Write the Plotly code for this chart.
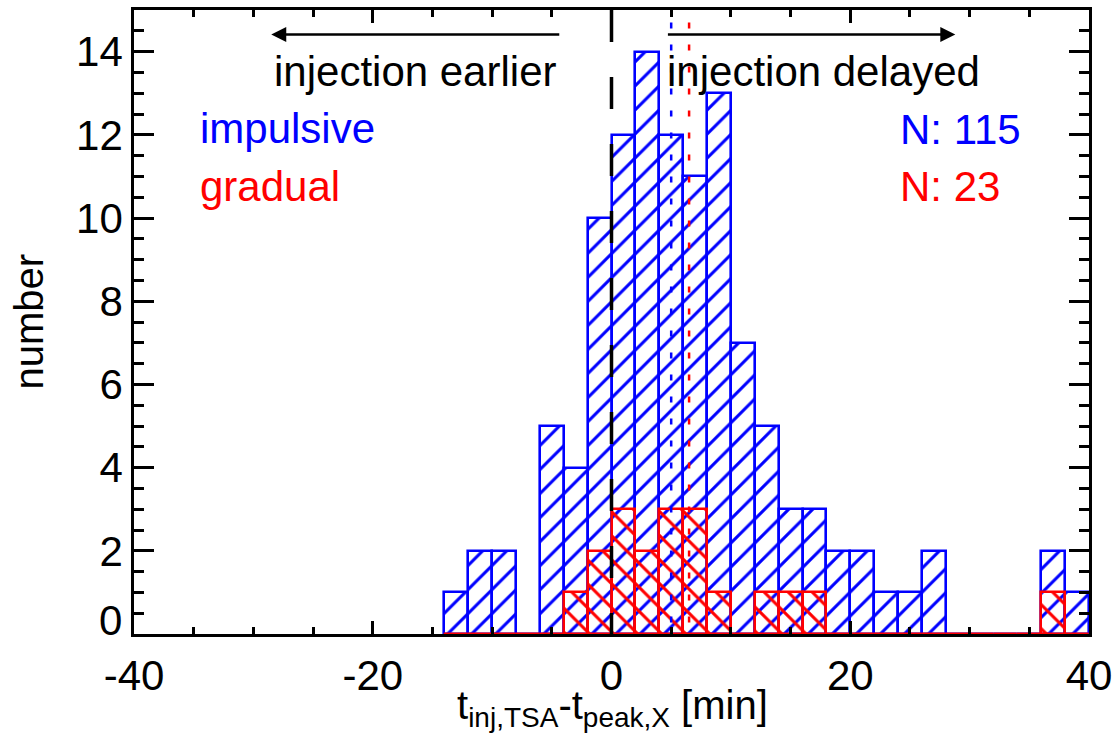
import plotly.graph_objects as go

# ---- data ----
bin_width = 2
bin_left = [-14, -12, -10, -8, -6, -4, -2, 0, 2, 4, 6, 8, 10, 12, 14, 16, 18, 20, 22, 24, 26, 28, 30, 32, 34, 36, 38]
impulsive_counts = [1, 2, 2, 0, 5, 4, 10, 12, 14, 12, 11, 13, 7, 5, 3, 3, 2, 2, 1, 1, 2, 0, 0, 0, 0, 2, 1]
gradual_counts = [0, 0, 0, 0, 0, 1, 2, 3, 2, 3, 3, 1, 0, 1, 1, 1, 0, 0, 0, 0, 0, 0, 0, 0, 0, 1, 0]
impulsive_median = 5.0
gradual_median = 6.5
n_impulsive = 115
n_gradual = 23
x_ticks = [-40, -20, 0, 20, 40]
x_tick_text = ["-40", "-20", "0", "20", "40"]
y_ticks = [0, 2, 4, 6, 8, 10, 12, 14]

FONT = "Liberation Sans, Arial, Helvetica, sans-serif"
BLUE = "#0000ff"
RED = "#ff0000"

centers = [b + bin_width / 2 for b in bin_left]

fig = go.Figure()
fig.add_trace(go.Bar(
    x=centers, y=impulsive_counts, width=bin_width,
    marker=dict(color=BLUE, line=dict(color=BLUE, width=2.6),
                pattern=dict(shape="/", fillmode="replace", size=17, solidity=0.18)),
    showlegend=False,
))
fig.add_trace(go.Bar(
    x=centers, y=gradual_counts, width=bin_width,
    marker=dict(color=RED, line=dict(color=RED, width=2.6),
                pattern=dict(shape="\\", fillmode="replace", size=17, solidity=0.18)),
    showlegend=False,
))

# vertical reference lines
fig.add_shape(type="line", x0=0, x1=0, y0=15, y1=0, xref="x", yref="y",
              line=dict(color="black", width=3.5, dash="32px,35px"))
fig.add_shape(type="line", x0=impulsive_median, x1=impulsive_median, y0=14.7, y1=0,
              line=dict(color=BLUE, width=2.5, dash="6px,16px"))
fig.add_shape(type="line", x0=gradual_median, x1=gradual_median, y0=14.7, y1=0,
              line=dict(color=RED, width=2.5, dash="6px,16px"))

ann = []
# arrows
ann.append(dict(x=-28.5, y=14.41, ax=-4.25, ay=14.41, xref="x", yref="y", axref="x", ayref="y",
                text="", showarrow=True, arrowhead=2, arrowsize=1.2, arrowwidth=2.5,
                arrowcolor="black", standoff=0, startstandoff=0))
ann.append(dict(x=28.8, y=14.41, ax=4.6, ay=14.41, xref="x", yref="y", axref="x", ayref="y",
                text="", showarrow=True, arrowhead=2, arrowsize=1.2, arrowwidth=2.5,
                arrowcolor="black", standoff=0, startstandoff=0))

def txt(s, x, y, color, anchor):
    return dict(text=s, x=x, y=y, xref="x", yref="y", showarrow=False,
                xanchor=anchor, yanchor="middle",
                font=dict(family=FONT, size=42, color=color))

ann.append(txt("injection earlier", -4.5, 13.52, "black", "right"))
ann.append(txt("injection delayed", 4.5, 13.52, "black", "left"))
ann.append(txt("impulsive", -34.6, 12.16, BLUE, "left"))
ann.append(txt("gradual", -34.6, 10.75, RED, "left"))
ann.append(txt(f"N: {n_impulsive}", 24.0, 12.13, BLUE, "left"))
ann.append(txt(f"N: {n_gradual}", 24.0, 10.75, RED, "left"))

# y "0" label drawn raised as in the reference
ann.append(dict(text="0", xref="paper", x=0, xanchor="right", xshift=-10,
                yref="y", y=0.335, yanchor="middle", showarrow=False,
                font=dict(family=FONT, size=42, color="black")))
# axis titles
ann.append(dict(text="number", xref="paper", x=(28 - 134) / 960, yref="paper", y=0.5,
                xanchor="center", yanchor="middle", textangle=-90, showarrow=False,
                font=dict(family=FONT, size=40, color="black")))
ann.append(dict(text="t<sub>inj,TSA</sub>-t<sub>peak,X</sub> [min]", xref="paper", x=0.501,
                yref="paper", y=(634 - 708) / 627, xanchor="center", yanchor="middle",
                showarrow=False, font=dict(family=FONT, size=40, color="black")))

fig.update_layout(
    width=1119, height=749,
    margin=dict(l=134, r=25, t=7, b=115),
    paper_bgcolor="white", plot_bgcolor="white",
    barmode="overlay", bargap=0,
    font=dict(family=FONT, size=42, color="black"),
    annotations=ann,
)
fig.update_xaxes(
    range=[-40, 40], tickmode="array", tickvals=x_ticks, ticktext=x_tick_text,
    ticks="inside", ticklen=13, tickwidth=2.5, tickcolor="black",
    minor=dict(dtick=5, tick0=0, ticks="inside", ticklen=7, tickwidth=2.5, tickcolor="black"),
    showline=True, linecolor="black", linewidth=2.6, mirror="ticks",
    showgrid=False, zeroline=False, ticklabelstandoff=3,
    tickfont=dict(family=FONT, size=42, color="black"),
)
fig.update_yaxes(
    range=[0, 15], tickmode="array", tickvals=y_ticks,
    ticktext=["" if v == 0 else str(v) for v in y_ticks],
    ticks="inside", ticklen=20, tickwidth=2.5, tickcolor="black",
    minor=dict(dtick=0.5, tick0=0, ticks="inside", ticklen=10, tickwidth=2.5, tickcolor="black"),
    showline=True, linecolor="black", linewidth=2.6, mirror="ticks",
    showgrid=False, zeroline=False,
    tickfont=dict(family=FONT, size=42, color="black"),
)

fig.write_html("out.html")
